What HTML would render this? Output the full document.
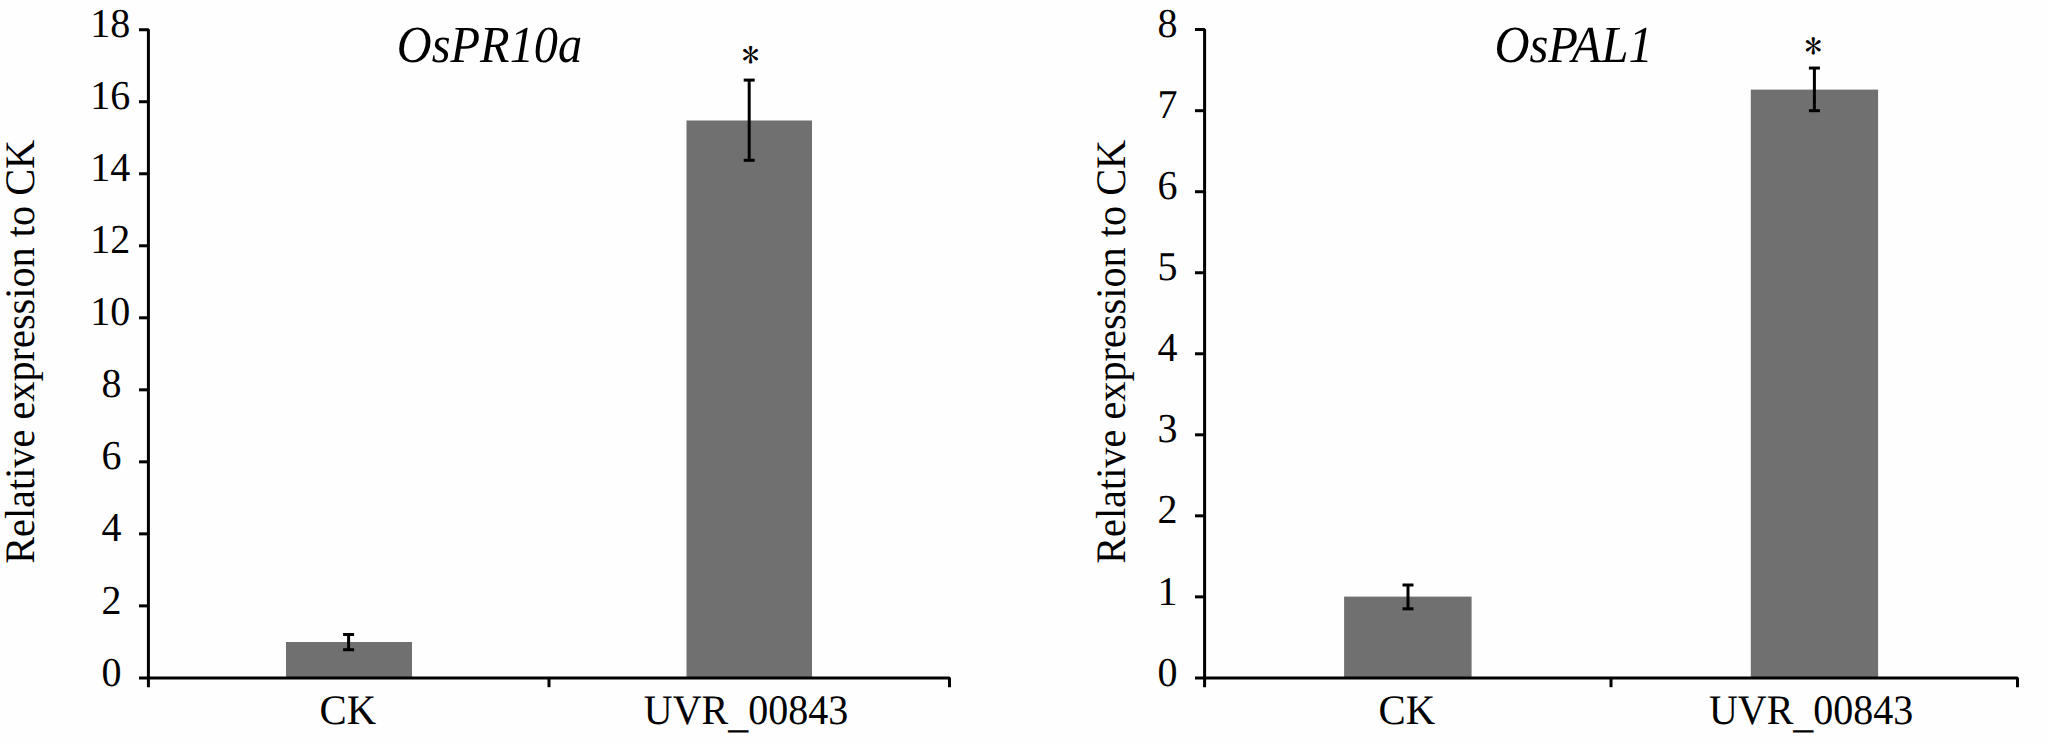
<!DOCTYPE html>
<html><head><meta charset="utf-8"><title>OsPR10a and OsPAL1 relative expression</title><style>
html,body{margin:0;padding:0;background:#fefefe;}
body{width:2048px;height:742px;overflow:hidden;}
svg{display:block;}
text{text-rendering:geometricPrecision;font-family:"Liberation Serif","Times New Roman",serif;fill:#000;}
.t{font-size:40px;}
.ti{font-style:italic;}
.yl{font-size:40px;}
.s{font-family:"IPAGothic","Liberation Serif",serif;}
</style></head><body>
<svg width="2048" height="742" viewBox="0 0 2048 742">
<rect width="2048" height="742" fill="#fefefe"/>
<rect x="286" y="642.00" width="126" height="35.90" fill="#707070"/>
<rect x="686.5" y="120.50" width="125.5" height="557.40" fill="#707070"/>
<path d="M139.00 29.70H148.40V687.20" fill="none" stroke="#000" stroke-width="3.0" stroke-linejoin="bevel"/>
<path d="M139.00 677.90H949.50V687.20" fill="none" stroke="#000" stroke-width="3.0" stroke-linejoin="bevel"/>
<rect x="547.50" y="677.90" width="3.0" height="9.30" fill="#000"/>
<rect x="139.00" y="604.38" width="9.40" height="3.0" fill="#000"/>
<rect x="139.00" y="532.36" width="9.40" height="3.0" fill="#000"/>
<rect x="139.00" y="460.34" width="9.40" height="3.0" fill="#000"/>
<rect x="139.00" y="388.32" width="9.40" height="3.0" fill="#000"/>
<rect x="139.00" y="316.30" width="9.40" height="3.0" fill="#000"/>
<rect x="139.00" y="244.28" width="9.40" height="3.0" fill="#000"/>
<rect x="139.00" y="172.26" width="9.40" height="3.0" fill="#000"/>
<rect x="139.00" y="100.24" width="9.40" height="3.0" fill="#000"/>
<text transform="matrix(1.0000 0 0 1.0250 111.40 685.53)" class="t" text-anchor="middle">0</text>
<text transform="matrix(1.0000 0 0 1.0250 111.40 613.51)" class="t" text-anchor="middle">2</text>
<text transform="matrix(1.0000 0 0 1.0250 111.40 541.49)" class="t" text-anchor="middle">4</text>
<text transform="matrix(1.0000 0 0 1.0250 111.40 469.47)" class="t" text-anchor="middle">6</text>
<text transform="matrix(1.0000 0 0 1.0250 111.40 397.45)" class="t" text-anchor="middle">8</text>
<text transform="matrix(1.0000 0 0 1.0250 110.20 325.43)" class="t" text-anchor="middle">10</text>
<text transform="matrix(1.0000 0 0 1.0250 110.20 253.41)" class="t" text-anchor="middle">12</text>
<text transform="matrix(1.0000 0 0 1.0250 110.20 181.39)" class="t" text-anchor="middle">14</text>
<text transform="matrix(1.0000 0 0 1.0250 110.20 109.37)" class="t" text-anchor="middle">16</text>
<text transform="matrix(1.0000 0 0 1.0250 110.20 37.35)" class="t" text-anchor="middle">18</text>
<rect x="347.10" y="634.50" width="3.0" height="15.20" fill="#000"/>
<rect x="343.10" y="633.00" width="11" height="3.0" fill="#000"/>
<rect x="343.10" y="648.20" width="11" height="3.0" fill="#000"/>
<rect x="747.70" y="80.10" width="3.0" height="80.20" fill="#000"/>
<rect x="743.70" y="78.60" width="11" height="3.0" fill="#000"/>
<rect x="743.70" y="158.80" width="11" height="3.0" fill="#000"/>
<text x="750.50" y="68.22" class="s" style="font-size:35.22px" text-anchor="middle">*</text>
<text transform="matrix(1.0200 0 0 1.0500 347.95 724.10)" class="t" text-anchor="middle">CK</text>
<text transform="matrix(1.0000 0 0 1.0500 746.05 724.10)" class="t" text-anchor="middle">UVR<tspan dy="2.6">_</tspan><tspan dy="-2.6">00843</tspan></text>
<text transform="matrix(0.9300 0 0 1.0000 489.50 61.90)" class="ti" style="font-size:52px" text-anchor="middle">OsPR10a</text>
<text transform="translate(34.1,351.85) rotate(-90) scale(1.007,1.05)" class="yl" text-anchor="middle">Relative expression to CK</text>
<rect x="1344.1" y="596.60" width="127.5" height="81.30" fill="#707070"/>
<rect x="1750.8" y="89.60" width="127.3" height="588.30" fill="#707070"/>
<path d="M1195.00 29.60H1204.60V687.20" fill="none" stroke="#000" stroke-width="3.0" stroke-linejoin="bevel"/>
<path d="M1195.00 677.90H2017.50V687.20" fill="none" stroke="#000" stroke-width="3.0" stroke-linejoin="bevel"/>
<rect x="1609.50" y="677.90" width="3.0" height="9.30" fill="#000"/>
<rect x="1195.00" y="595.37" width="9.60" height="3.0" fill="#000"/>
<rect x="1195.00" y="514.34" width="9.60" height="3.0" fill="#000"/>
<rect x="1195.00" y="433.31" width="9.60" height="3.0" fill="#000"/>
<rect x="1195.00" y="352.28" width="9.60" height="3.0" fill="#000"/>
<rect x="1195.00" y="271.25" width="9.60" height="3.0" fill="#000"/>
<rect x="1195.00" y="190.22" width="9.60" height="3.0" fill="#000"/>
<rect x="1195.00" y="109.19" width="9.60" height="3.0" fill="#000"/>
<text transform="matrix(1.0000 0 0 1.0250 1167.50 685.53)" class="t" text-anchor="middle">0</text>
<text transform="matrix(1.0000 0 0 1.0250 1167.50 604.50)" class="t" text-anchor="middle">1</text>
<text transform="matrix(1.0000 0 0 1.0250 1167.50 523.47)" class="t" text-anchor="middle">2</text>
<text transform="matrix(1.0000 0 0 1.0250 1167.50 442.44)" class="t" text-anchor="middle">3</text>
<text transform="matrix(1.0000 0 0 1.0250 1167.50 361.41)" class="t" text-anchor="middle">4</text>
<text transform="matrix(1.0000 0 0 1.0250 1167.50 280.38)" class="t" text-anchor="middle">5</text>
<text transform="matrix(1.0000 0 0 1.0250 1167.50 199.35)" class="t" text-anchor="middle">6</text>
<text transform="matrix(1.0000 0 0 1.0250 1167.50 118.32)" class="t" text-anchor="middle">7</text>
<text transform="matrix(1.0000 0 0 1.0250 1167.50 37.29)" class="t" text-anchor="middle">8</text>
<rect x="1406.50" y="585.00" width="3.0" height="23.80" fill="#000"/>
<rect x="1402.50" y="583.50" width="11" height="3.0" fill="#000"/>
<rect x="1402.50" y="607.30" width="11" height="3.0" fill="#000"/>
<rect x="1812.90" y="68.05" width="3.0" height="42.65" fill="#000"/>
<rect x="1808.90" y="66.55" width="11" height="3.0" fill="#000"/>
<rect x="1808.90" y="109.20" width="11" height="3.0" fill="#000"/>
<text x="1813.20" y="59.40" class="s" style="font-size:35.02px" text-anchor="middle">*</text>
<text transform="matrix(1.0200 0 0 1.0500 1406.95 724.10)" class="t" text-anchor="middle">CK</text>
<text transform="matrix(1.0000 0 0 1.0500 1811.10 724.10)" class="t" text-anchor="middle">UVR<tspan dy="2.6">_</tspan><tspan dy="-2.6">00843</tspan></text>
<text transform="matrix(0.9340 0 0 1.0000 1573.55 61.90)" class="ti" style="font-size:52px" text-anchor="middle">OsPAL1</text>
<text transform="translate(1125.3,351.85) rotate(-90) scale(1.007,1.05)" class="yl" text-anchor="middle">Relative expression to CK</text>
</svg>
</body></html>
